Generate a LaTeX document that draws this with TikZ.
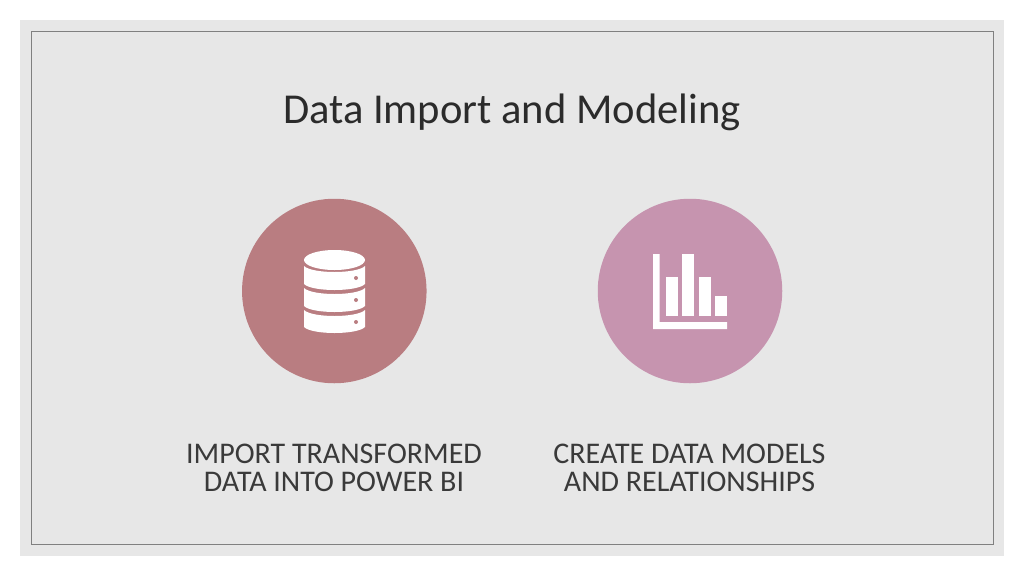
\documentclass[tikz,border=0pt]{standalone}
\usepackage{fontspec}
\setmainfont{Carlito}
\definecolor{bgc}{HTML}{E7E7E7}
\definecolor{framec}{HTML}{808080}
\definecolor{rosec}{HTML}{B97D81}
\definecolor{mauvec}{HTML}{C694AF}
\definecolor{titlec}{HTML}{2B2B2B}
\definecolor{capc}{HTML}{3A3A3A}
\tikzset{
  bubble/.style={circle,inner sep=0pt,minimum size=184.5pt},
  caption/.style={align=center,text=capc,font=\fontsize{30}{28.5}\selectfont,inner sep=0pt},
  slab/.style={fill=white,draw=none}
}
\begin{document}
\begin{tikzpicture}[x=1pt,y=-1pt]
\useasboundingbox (0,0) rectangle (1024,576);
\fill[white] (0,0) rectangle (1024,576);
\fill[bgc] (20,20) rectangle (1004,556);
\draw[framec,line width=1pt] (31,31) rectangle (993,544.5);
\node[text=titlec,font=\fontsize{42.6}{48}\selectfont,inner sep=0pt] (title) at (512,112) {Data Import and Modeling};
\node[bubble,fill=rosec] (c1) at (334.3,291) {};
\node[bubble,fill=mauvec] (c2) at (690,291) {};
\node[caption] (t1) at (334,468) {IMPORT TRANSFORMED\\DATA INTO POWER BI};
\node[caption] (t2) at (689.5,468) {CREATE DATA MODELS\\AND RELATIONSHIPS};
% database icon
\fill[slab] (334.5,260) ellipse [x radius=30.5pt,y radius=10pt];
\foreach \a/\b in {266/284,288/306,310/327}{
  \fill[slab] (304,\a) .. controls (312,{\a+8}) and (357,{\a+8}) .. (365,\a)
    -- (365,\b) .. controls (357,{\b+8}) and (312,{\b+8}) .. (304,\b) -- cycle;
}
\foreach \y in {278,300,322}{\fill[rosec] (356,\y) circle (2pt);}
% chart icon
\fill[slab] (653,254) -- (659.5,254) -- (659.5,322) -- (727,322) -- (727,329) -- (653,329) -- cycle;
\fill[slab] (666,277) rectangle (678,316);
\fill[slab] (682,254) rectangle (694,316);
\fill[slab] (699,277) rectangle (711,316);
\fill[slab] (715,296) rectangle (727,316);
\end{tikzpicture}
\end{document}
